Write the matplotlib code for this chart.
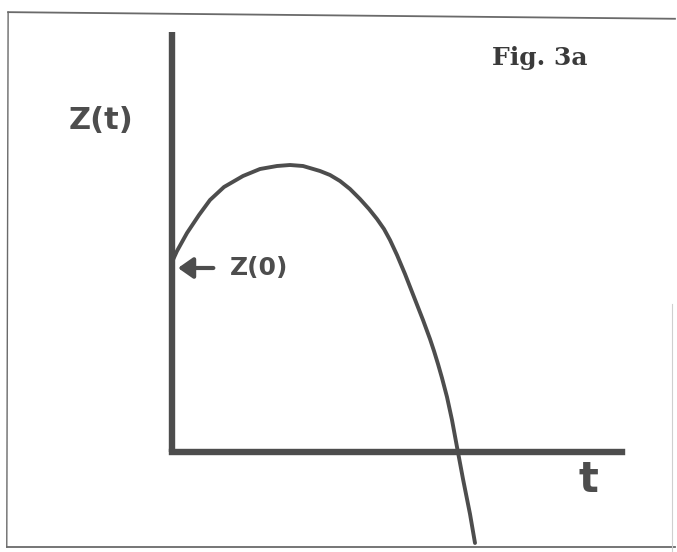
import matplotlib
matplotlib.use("Agg")
import matplotlib.pyplot as plt
from matplotlib.lines import Line2D

# --- DANE (jednostki umowne) ---
t_vals = [0.00, 0.05, 0.15, 0.27, 0.38, 0.52, 0.71, 0.88, 1.05, 1.18,
          1.31, 1.48, 1.58, 1.68, 1.78, 1.88, 1.97, 2.05, 2.12, 2.18,
          2.25, 2.33, 2.42, 2.51, 2.58, 2.62, 2.66, 2.70, 2.75, 2.80,
          2.85, 2.91, 2.98, 3.03]
z_vals = [1.90, 2.01, 2.19, 2.37, 2.52, 2.65, 2.76, 2.83, 2.86, 2.87,
          2.86, 2.81, 2.77, 2.71, 2.63, 2.53, 2.43, 2.33, 2.23, 2.12,
          1.97, 1.78, 1.55, 1.32, 1.13, 1.01, 0.88, 0.74, 0.55, 0.32,
          0.05, -0.27, -0.62, -0.91]

axis_t_end = 4.50   # koniec osi t
axis_z_end = 4.20   # koniec osi Z

ink = "#4d4d4d"

fig = plt.figure(figsize=(6.77, 5.52), dpi=100)
ax = fig.add_axes([0, 0, 1, 1])
ax.set_xlim(-1.72, 5.05)
ax.set_ylim(-1.00, 4.52)
ax.axis("off")

# osie narysowane "ręcznie"
ax.plot([0, 0], [0, axis_z_end], color=ink, lw=4.6, solid_capstyle="butt")
ax.plot([0, axis_t_end], [0, 0], color=ink, lw=4.6, solid_capstyle="projecting")

# krzywa Z(t)
ax.plot(t_vals, z_vals, color=ink, lw=2.8, solid_joinstyle="round",
        solid_capstyle="round")

# etykiety
ax.text(-0.71, 3.31, "Z(t)", fontsize=22, fontweight="bold", color=ink,
        ha="center", va="center", family="DejaVu Sans")
ax.annotate("Z(0)", xy=(0.06, 1.84), xytext=(0.58, 1.84),
            fontsize=18, fontweight="bold", color=ink,
            ha="left", va="center", family="DejaVu Sans",
            arrowprops=dict(arrowstyle="-|>,head_length=0.5,head_width=0.35",
                            color=ink, lw=3.0, shrinkA=10, shrinkB=0))
ax.text(4.16, -0.28, "t", fontsize=30, fontweight="bold", color=ink,
        ha="center", va="center", family="DejaVu Sans")
ax.text(3.68, 3.94, "Fig. 3a", fontsize=18, fontweight="bold", color="#3a3a3a",
        ha="center", va="center", family="DejaVu Serif")

# ramka skanu
frame = "#6a6a6a"
fig.add_artist(Line2D([0.012, 0.997], [0.978, 0.966], color=frame, lw=1.3,
                      transform=fig.transFigure))
fig.add_artist(Line2D([0.012, 0.010], [0.978, 0.009], color=frame, lw=1.0,
                      transform=fig.transFigure))
fig.add_artist(Line2D([0.010, 0.997], [0.009, 0.009], color=frame, lw=1.3,
                      transform=fig.transFigure))
fig.add_artist(Line2D([0.993, 0.993], [0.45, 0.0], color="#cfcfcf", lw=0.8,
                      transform=fig.transFigure))

fig.savefig("out.png", dpi=100)
